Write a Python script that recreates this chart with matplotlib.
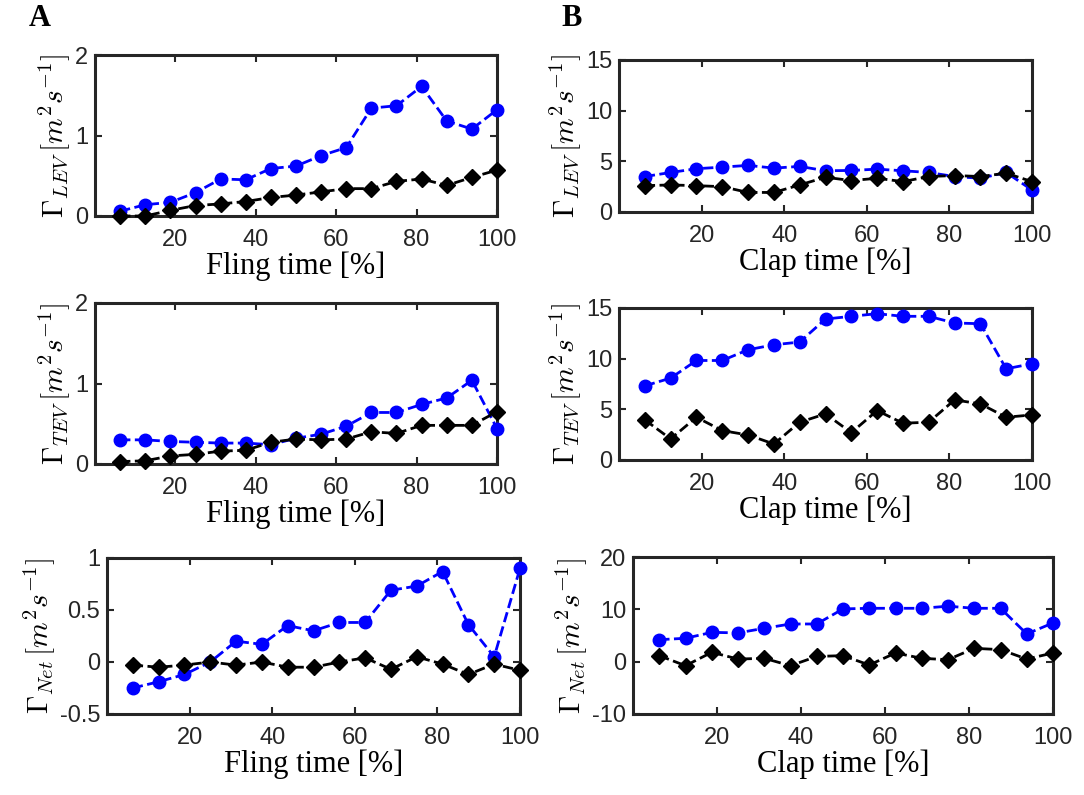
import matplotlib
matplotlib.use('Agg')
import matplotlib.pyplot as plt

plt.rcParams['mathtext.fontset'] = 'cm'

# x positions: percentage of fling / clap time
x = [6.25, 12.5, 18.75, 25, 31.25, 37.5, 43.75, 50, 56.25, 62.5, 68.75, 75, 81.25, 87.5, 93.75, 100]

# panel A (fling)
lev_fling_blue = [0.06, 0.14, 0.17, 0.29, 0.46, 0.45, 0.59, 0.62, 0.75, 0.85, 1.34, 1.37, 1.61, 1.18, 1.08, 1.32]
lev_fling_black = [0.00, 0.00, 0.07, 0.13, 0.15, 0.18, 0.23, 0.26, 0.30, 0.34, 0.34, 0.43, 0.46, 0.38, 0.48, 0.57]
tev_fling_blue = [0.30, 0.30, 0.28, 0.27, 0.26, 0.26, 0.24, 0.32, 0.37, 0.47, 0.64, 0.64, 0.74, 0.82, 1.04, 0.44]
tev_fling_black = [0.03, 0.04, 0.10, 0.12, 0.16, 0.17, 0.27, 0.31, 0.30, 0.31, 0.40, 0.38, 0.48, 0.48, 0.48, 0.65]
net_fling_blue = [-0.25, -0.19, -0.12, 0.00, 0.20, 0.17, 0.35, 0.30, 0.38, 0.38, 0.69, 0.73, 0.87, 0.36, 0.05, 0.90]
net_fling_black = [-0.03, -0.05, -0.03, 0.00, -0.03, 0.00, -0.05, -0.05, 0.00, 0.04, -0.07, 0.05, -0.02, -0.12, -0.02, -0.08]

# panel B (clap)
lev_clap_blue = [3.5, 3.9, 4.27, 4.43, 4.6, 4.33, 4.5, 4.07, 4.1, 4.23, 4.07, 3.9, 3.5, 3.33, 3.9, 2.17]
lev_clap_black = [2.6, 2.67, 2.6, 2.5, 1.93, 1.93, 2.67, 3.43, 3.1, 3.33, 3.0, 3.5, 3.6, 3.5, 3.83, 3.0]
tev_clap_blue = [7.32, 8.08, 9.82, 9.82, 10.88, 11.37, 11.64, 13.91, 14.18, 14.44, 14.18, 14.18, 13.52, 13.45, 9.0, 9.5]
tev_clap_black = [3.96, 2.08, 4.22, 2.9, 2.47, 1.58, 3.73, 4.55, 2.7, 4.88, 3.63, 3.73, 5.93, 5.54, 4.22, 4.45]
net_clap_blue = [4.2, 4.47, 5.6, 5.5, 6.38, 7.2, 7.2, 10.08, 10.2, 10.2, 10.2, 10.6, 10.2, 10.2, 5.3, 7.4]
net_clap_black = [1.15, -0.77, 1.79, 0.5, 0.64, -0.77, 1.0, 1.15, -0.64, 1.66, 0.64, 0.38, 2.55, 2.3, 0.5, 1.66]

W, H = 1084, 795
fig = plt.figure(figsize=(W / 100, H / 100), dpi=100)

def add_ax(l, t, r, b):
    return fig.add_axes([l / W, (H - b) / H, (r - l) / W, (b - t) / H])

gray = '#262626'
panels = [
    # box (px), blue, black, ylim, yticks, yticklabels, ylabel, xlabel
    ((95, 55, 497, 216), lev_fling_blue, lev_fling_black, (0, 2), [0, 1, 2], ['0', '1', '2'], 'LEV', 'Fling time [%]'),
    ((95, 303, 497, 464), tev_fling_blue, tev_fling_black, (0, 2), [0, 1, 2], ['0', '1', '2'], 'TEV', 'Fling time [%]'),
    ((107, 558, 520, 714), net_fling_blue, net_fling_black, (-0.5, 1), [-0.5, 0, 0.5, 1], ['-0.5', '0', '0.5', '1'], 'Net', 'Fling time [%]'),
    ((619, 60, 1032, 212), lev_clap_blue, lev_clap_black, (0, 15), [0, 5, 10, 15], ['0', '5', '10', '15'], 'LEV', 'Clap time [%]'),
    ((619, 308, 1032, 460), tev_clap_blue, tev_clap_black, (0, 15), [0, 5, 10, 15], ['0', '5', '10', '15'], 'TEV', 'Clap time [%]'),
    ((633, 557, 1053, 714), net_clap_blue, net_clap_black, (-10, 20), [-10, 0, 10, 20], ['-10', '0', '10', '20'], 'Net', 'Clap time [%]'),
]

for box, yb, yk, ylim, yt, ytl, sub, xl in panels:
    ax = add_ax(*box)
    ax.plot(x, yb, '--o', color=(0, 0, 1), lw=2, ms=9, clip_on=False, zorder=3)
    ax.plot(x, yk, '--D', color='k', lw=2, ms=8, clip_on=False, zorder=4)
    ax.set_xlim(0, 100)
    ax.set_ylim(*ylim)
    ax.set_xticks([20, 40, 60, 80, 100])
    ax.set_xticklabels(['20', '40', '60', '80', '100'], family='Liberation Sans', fontsize=17, color=gray)
    ax.set_yticks(yt)
    ax.set_yticklabels(ytl, family='Liberation Sans', fontsize=17, color=gray)
    ax.tick_params(direction='in', length=5, width=1.5, top=True, right=True, colors=gray)
    ax.tick_params(axis='x', pad=9)
    ax.tick_params(axis='y', pad=5)
    for s in ax.spines.values():
        s.set_linewidth(2.2)
        s.set_color(gray)
    ax.set_xlabel(xl, family='Liberation Serif', fontsize=22, labelpad=1)
    ax.set_ylabel(r'$\Gamma_{%s}\,[m^2 s^{-1}]$' % sub, fontsize=21, labelpad=2)

fig.text(40 / W, 1 - 18 / H, 'A', family='Liberation Serif', fontweight='bold', fontsize=22, ha='center', va='center')
fig.text(572 / W, 1 - 18 / H, 'B', family='Liberation Serif', fontweight='bold', fontsize=22, ha='center', va='center')

fig.savefig('out.png', dpi=100)
